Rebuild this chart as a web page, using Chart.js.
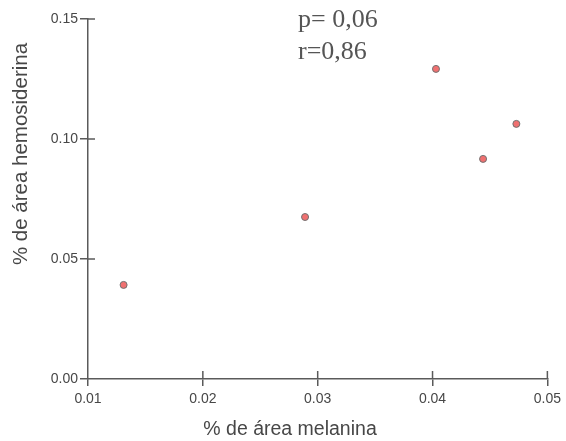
<!DOCTYPE html>
<html>
<head>
<meta charset="utf-8">
<script src="https://cdn.jsdelivr.net/npm/chart.js@4"></script>
<style>
  html, body { margin: 0; padding: 0; background: #fff; }
  #wrap { width: 566px; height: 441px; }
</style>
</head>
<body>
<div id="wrap"><canvas id="melanina"></canvas></div>
<script>
// valores
var melanina = [0.0131, 0.0289, 0.0403, 0.0444, 0.0473]
var hemosiderina = [0.0392, 0.0675, 0.1292, 0.0917, 0.1063]
var xTicks = [0.01, 0.02, 0.03, 0.04, 0.05]
var yTicks = [0.00, 0.05, 0.10, 0.15]
var xTitle = '% de área melanina'
var yTitle = '% de área hemosiderina'
var stats = ['p= 0,06', 'r=0,86']

var axisColor = '#5a5a5a'
var textColor = '#474747'

var points = []
for (var i = 0; i < melanina.length; i++) {
    points.push({x: melanina[i], y: hemosiderina[i]})
}

// ticks que cruzan el eje (parte interior) + textos
var extras = {
    id: 'extras',
    afterDraw: function(chart) {
        var c = chart.ctx
        var xs = chart.scales.x, ys = chart.scales.y
        c.save()
        c.strokeStyle = axisColor
        c.lineWidth = 1.5
        xTicks.forEach(function(v, i) {
            if (i == 0) return
            var px = xs.getPixelForValue(v)
            c.beginPath(); c.moveTo(px, ys.bottom); c.lineTo(px, ys.bottom - 8); c.stroke()
        })
        yTicks.forEach(function(v, i) {
            if (i == 0) return
            var py = ys.getPixelForValue(v)
            c.beginPath(); c.moveTo(xs.left, py); c.lineTo(xs.left + 7, py); c.stroke()
        })
        c.fillStyle = textColor
        c.textAlign = 'center'
        c.textBaseline = 'alphabetic'
        c.font = '19.5px "Liberation Sans", Arial, sans-serif'
        c.fillText(xTitle, 290, 435)
        c.font = '20.5px "Liberation Sans", Arial, sans-serif'
        c.translate(27, 154)
        c.rotate(-Math.PI / 2)
        c.fillText(yTitle, 0, 0)
        c.restore()

        c.save()
        c.fillStyle = '#555'
        c.font = '26px "Liberation Serif", "Times New Roman", serif'
        c.textAlign = 'left'
        c.fillText(stats[0], 298, 27)
        c.fillText(stats[1], 298, 59)
        c.restore()
    }
}

var ctx = document.getElementById('melanina').getContext('2d')
var chart1 = new Chart(ctx, {
    type: 'scatter',
    plugins: [extras],
    data: {
        datasets: [{
            data: points,
            pointStyle: 'circle',
            pointRadius: 3.5,
            pointBackgroundColor: '#f07070',
            pointBorderColor: '#707070',
            pointBorderWidth: 1
        }]
    },
    options: {
        responsive: true,
        maintainAspectRatio: false,
        animation: false,
        layout: { padding: { top: 19, right: 18, left: 0, bottom: 0 } },
        plugins: {
            legend: { display: false },
            tooltip: { enabled: false }
        },
        scales: {
            x: {
                type: 'linear',
                min: 0.01,
                max: 0.05,
                afterFit: function(s) { s.height = 62 },
                afterBuildTicks: function(s) { s.ticks = xTicks.map(function(v) { return {value: v} }) },
                grid: { drawOnChartArea: false, drawTicks: true, tickLength: 7, color: axisColor, lineWidth: 1.5 },
                border: { display: true, color: axisColor, width: 1.5 },
                ticks: {
                    padding: 5,
                    color: textColor,
                    font: { family: '"Liberation Sans", Arial, sans-serif', size: 14 },
                    callback: function(v) { return v.toFixed(2) }
                }
            },
            y: {
                type: 'linear',
                min: 0,
                max: 0.15,
                afterFit: function(s) { s.width = 88 },
                afterBuildTicks: function(s) { s.ticks = yTicks.map(function(v) { return {value: v} }) },
                grid: { drawOnChartArea: false, drawTicks: true, tickLength: 8, color: axisColor, lineWidth: 1.5 },
                border: { display: true, color: axisColor, width: 1.5 },
                ticks: {
                    padding: 2,
                    color: textColor,
                    font: { family: '"Liberation Sans", Arial, sans-serif', size: 14 },
                    callback: function(v) { return v.toFixed(2) }
                }
            }
        }
    }
})
</script>
</body>
</html>
